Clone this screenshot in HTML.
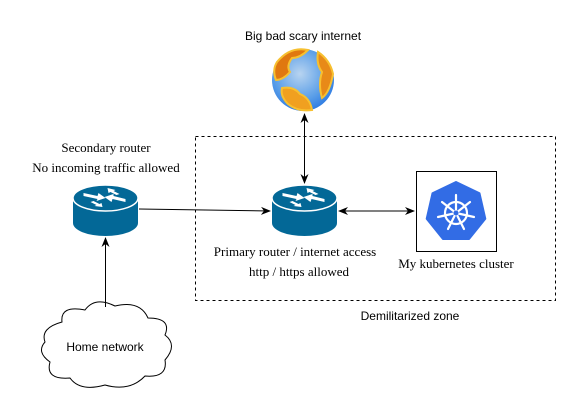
<!DOCTYPE html>
<html><head><style>html,body{margin:0;padding:0;background:#fff}svg{display:block}</style></head>
<body>
<svg width="581" height="417" viewBox="0 0 581 417" xmlns="http://www.w3.org/2000/svg">
<defs>
<marker id="a" viewBox="0 0 10 10" refX="9" refY="5" markerWidth="10" markerHeight="10" orient="auto-start-reverse" markerUnits="userSpaceOnUse"><path d="M0,1 L10,5 L0,9 L3,5 z" fill="#000"/></marker>
<radialGradient id="g" cx="0.45" cy="0.4" r="0.7"><stop offset="0" stop-color="#b8d4f0"/><stop offset="0.6" stop-color="#5a9ee8"/><stop offset="1" stop-color="#1e6fe0"/></radialGradient>
<g id="router">
<path d="M-32.5,-12 L-32.5,13 A32.5,13 0 0 0 32.5,13 L32.5,-12 Z" fill="#036897"/>
<ellipse cx="0" cy="-12" rx="32.5" ry="13" fill="#036897" stroke="#fff" stroke-width="1.5"/>
<g fill="#fff">
<path d="M-22,-17 L-8,-14 L-7,-17 L0,-12 L-9,-9 L-8,-11 L-22,-14Z"/>
<path d="M20,-8 L7,-11 L6,-8 L-1,-13 L8,-16 L8,-14 L20,-11Z"/>
<path d="M2,-22 L10,-20 L8,-19 L14,-16 L11,-15 L5,-18 L3,-17Z"/>
<path d="M-3,-3 L-11,-4 L-9,-5 L-15,-8 L-12,-9 L-6,-6 L-4,-7Z"/>
</g>
</g>
</defs>
<text x="303" y="40" font-family="Liberation Sans, sans-serif" font-size="12" text-anchor="middle">Big bad scary internet</text>
<circle cx="303" cy="80" r="31" fill="url(#g)"/>
<path d="M277,62 Q290,46 308,50 Q300,58 292,58 Q286,66 290,72 Q283,80 276,80 Q272,70 277,62Z" fill="#e07810" stroke="#f7c030" stroke-width="2"/>
<path d="M318,52 Q330,60 333,74 Q330,92 322,98 Q318,84 322,72 Q316,64 318,52Z" fill="#e88a18" stroke="#f7c030" stroke-width="2"/>
<path d="M282,88 Q294,86 300,94 Q310,98 312,110 Q298,112 288,104 Q280,96 282,88Z" fill="#f0a020" stroke="#f7c030" stroke-width="2"/>
<rect x="195.5" y="136.5" width="360" height="164" fill="none" stroke="#000" stroke-dasharray="3,3"/>
<text x="410" y="320" font-family="Liberation Sans, sans-serif" font-size="12" text-anchor="middle">Demilitarized zone</text>
<text x="106" y="152" font-family="Liberation Serif, serif" font-size="13" text-anchor="middle">Secondary router</text>
<text x="106" y="172" font-family="Liberation Serif, serif" font-size="13" text-anchor="middle">No incoming traffic allowed</text>
<use href="#router" x="105.5" y="210"/>
<use href="#router" x="304.5" y="210"/>
<text x="295" y="256" font-family="Liberation Serif, serif" font-size="13" text-anchor="middle">Primary router / internet access</text>
<text x="299" y="276" font-family="Liberation Serif, serif" font-size="13" text-anchor="middle">http / https allowed</text>
<rect x="416.5" y="171.5" width="80" height="80" fill="#fff" stroke="#000"/>
<path d="M456,182 L479.5,193.3 L485.3,218.7 L469,239 L443,239 L426.7,218.7 L432.5,193.3Z" fill="#326ce5" stroke="#326ce5" stroke-width="2" stroke-linejoin="round"/>
<g stroke="#fff" stroke-width="2.2" fill="none" stroke-linecap="round">
<circle cx="456" cy="213" r="11"/>
<line x1="456" y1="213" x2="456" y2="195"/>
<line x1="456" y1="213" x2="470" y2="202"/>
<line x1="456" y1="213" x2="474" y2="217"/>
<line x1="456" y1="213" x2="464" y2="229"/>
<line x1="456" y1="213" x2="448" y2="229"/>
<line x1="456" y1="213" x2="438" y2="217"/>
<line x1="456" y1="213" x2="442" y2="202"/>
</g>
<circle cx="456" cy="213" r="2.5" fill="#326ce5"/>
<text x="456" y="268" font-family="Liberation Serif, serif" font-size="13" text-anchor="middle">My kubernetes cluster</text>
<path d="M62,322 Q60,305 85,310 Q95,296 115,306 Q140,300 148,318 Q172,318 165,335 Q178,345 165,360 Q168,378 145,376 Q130,392 105,385 Q80,392 70,378 Q45,380 50,362 Q36,352 45,342 Q40,328 62,322Z" fill="#fff" stroke="#000"/>
<text x="105" y="351" font-family="Liberation Sans, sans-serif" font-size="12" text-anchor="middle">Home network</text>
<g stroke="#000" stroke-width="1" fill="none">
<line x1="105.5" y1="307" x2="105.5" y2="238" marker-end="url(#a)"/>
<line x1="139" y1="209" x2="270" y2="211" marker-end="url(#a)"/>
<line x1="304.5" y1="114" x2="304.5" y2="183" marker-start="url(#a)" marker-end="url(#a)"/>
<line x1="339" y1="211" x2="414" y2="211" marker-start="url(#a)" marker-end="url(#a)"/>
</g>
</svg>
</body></html>
